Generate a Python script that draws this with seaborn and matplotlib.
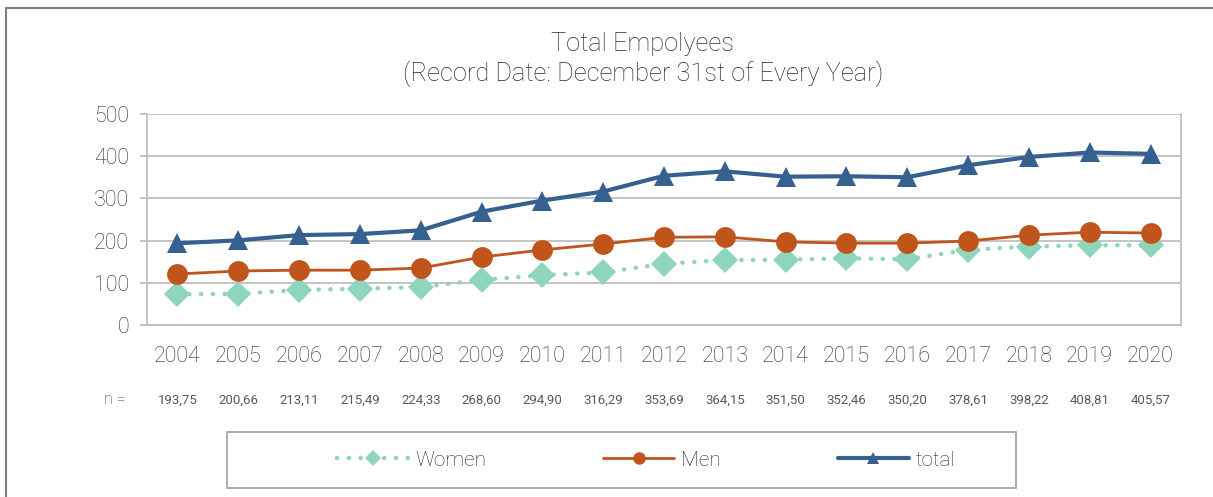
import numpy as np
import pandas as pd
import seaborn as sns
import matplotlib.pyplot as plt
from matplotlib.patches import Rectangle

# data
years = list(range(2004, 2021))
women = [73, 74, 83, 86, 90, 107, 118, 125, 145, 154, 155, 158, 156, 178, 186, 189, 189]
men = [121, 128, 130, 130, 135, 161, 178, 192, 208, 209, 197, 194, 194, 199, 213, 220, 218]
total = [193.75, 200.66, 213.11, 215.49, 224.33, 268.60, 294.90, 316.29, 353.69,
         364.15, 351.50, 352.46, 350.20, 378.61, 398.22, 408.81, 405.57]
yticks = [0, 100, 200, 300, 400, 500]

df = pd.DataFrame({"year": years, "Women": women, "Men": men, "total": total})

sns.set_style("white")
plt.rcParams['font.family'] = ['Roboto', 'DejaVu Sans']
plt.rcParams['font.weight'] = 'light'
txt = "#2B2B2B"
grid_c = "#BFBFBF"

fig = plt.figure(figsize=(12.13, 4.97), dpi=100)
ax = fig.add_axes([0.1212, 0.346, 0.8524, 0.4246])

c_women = "#8ED5BB"
c_men = "#C0541B"
c_total = "#35608F"

sns.lineplot(data=df, x="year", y="Women", ax=ax, color=c_women, marker="D",
             markersize=13, markeredgewidth=0, linewidth=3.2,
             linestyle=(0, (0.05, 2.6)), dash_capstyle="round", label="Women")
sns.lineplot(data=df, x="year", y="Men", ax=ax, color=c_men, marker="o",
             markersize=15, markeredgewidth=0, linewidth=2, label="Men")
sns.lineplot(data=df, x="year", y="total", ax=ax, color=c_total, marker="^",
             markersize=15, markeredgewidth=0, linewidth=3, label="total")

ax.set_xlim(2003.5, 2020.5)
ax.set_ylim(0, 500)
ax.set_yticks(yticks)
ax.set_xticks(years)
ax.set_xticks(np.arange(2003.5, 2021, 1), minor=True)
ax.set_xlabel("")
ax.set_ylabel("")
ax.grid(axis="y", color=grid_c, linewidth=1.3)
ax.set_axisbelow(True)
for s in ["left", "bottom", "right"]:
    ax.spines[s].set_color(grid_c)
    ax.spines[s].set_linewidth(1.3)
ax.spines["top"].set_visible(False)
ax.tick_params(axis="x", which="major", length=0, pad=15, labelsize=15.5, labelcolor=txt)
ax.tick_params(axis="x", which="minor", length=5, width=1.3, color=grid_c)
ax.tick_params(axis="y", length=5, width=1.3, color=grid_c, labelsize=15.5,
               labelcolor=txt, pad=8, left=True)

# n = row under the axis
ax.text(-0.031, -0.355, "n =", transform=ax.transAxes, ha="center", va="center",
        fontsize=11.5, color=txt)
for yr, v in zip(years, total):
    ax.text(yr, -0.355, f"{v:.2f}".replace(".", ","), transform=ax.get_xaxis_transform(),
            ha="center", va="center", fontsize=9.5, color="#595959", fontweight="normal")

fig.text(0.53, 0.911, "Total Empolyees", ha="center", va="center", fontsize=18.3, color=txt)
fig.text(0.53, 0.851, "(Record Date: December 31st of Every Year)", ha="center",
         va="center", fontsize=18.3, color=txt)

# outer frame and legend box
fig.patches.append(Rectangle((0.005, -0.1), 1.1, 1.083, transform=fig.transFigure,
                             fill=False, edgecolor="#808080", linewidth=1.5))
fig.patches.append(Rectangle((0.187, 0.018), 0.651, 0.113, transform=fig.transFigure,
                             fill=False, edgecolor="#A6A6A6", linewidth=1.3))
handles, labels = ax.get_legend_handles_labels()
ax.legend_.remove()
fig.legend(handles, labels, loc="center", bbox_to_anchor=(0.533, 0.0744), ncol=3,
           frameon=False, fontsize=15, handlelength=3.4, columnspacing=5.6,
           handletextpad=0.35, labelcolor=txt, markerscale=0.6)

fig.savefig("out.png", dpi=100)
